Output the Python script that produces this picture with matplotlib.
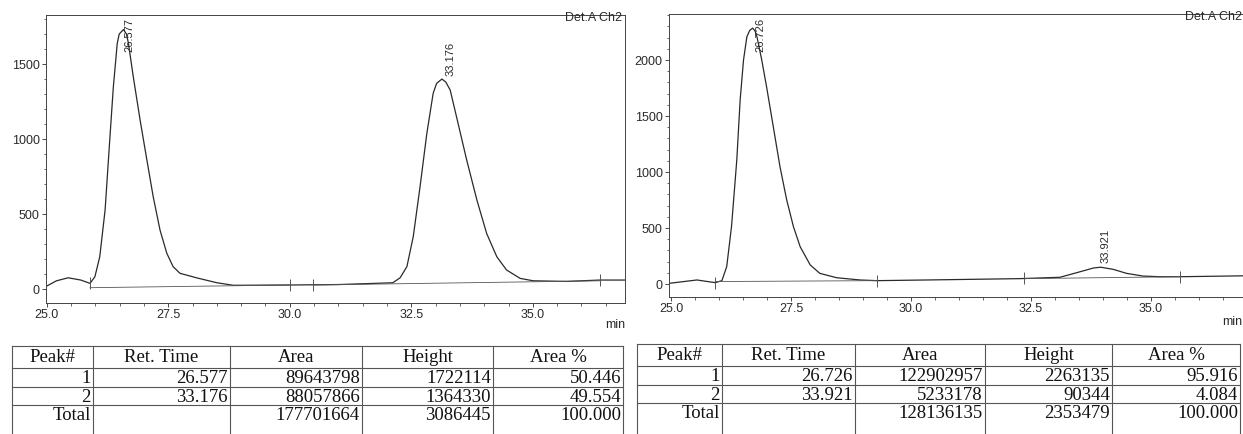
import numpy as np
import matplotlib.pyplot as plt

# chromatogram 1 (racemic) - time (min) vs signal (mV)
left_t = [25.0, 25.2, 25.44, 25.7, 25.89, 25.99, 26.09, 26.20, 26.30, 26.37, 26.45,
          26.49, 26.577, 26.64, 26.68, 26.78, 26.92, 27.06, 27.19, 27.33, 27.47,
          27.60, 27.74, 28.08, 28.50, 28.84, 30.0, 31.0, 32.12, 32.27, 32.41,
          32.54, 32.68, 32.82, 32.95, 33.02, 33.13, 33.21, 33.30, 33.43, 33.64,
          33.85, 34.05, 34.26, 34.46, 34.74, 35.01, 35.70, 36.38, 36.9]
left_v = [20, 55, 75, 60, 38, 82, 215, 527, 1015, 1349, 1638,
          1700, 1730, 1700, 1638, 1415, 1127, 860, 615, 393, 238,
          149, 105, 75, 42, 25, 27, 30, 42, 75, 150,
          349, 682, 1038, 1305, 1371, 1400, 1380, 1327, 1149, 860,
          593, 371, 215, 127, 71, 55, 51, 60, 60]

# chromatogram 2 (enriched sample)
right_t = [24.96, 25.54, 25.92, 26.06, 26.16, 26.26, 26.37, 26.44, 26.51, 26.58,
           26.64, 26.70, 26.75, 26.79, 26.89, 26.99, 27.13, 27.27, 27.41, 27.55,
           27.69, 27.90, 28.10, 28.45, 28.94, 29.29, 30.33, 32.27, 33.10, 33.45,
           33.80, 33.95, 34.21, 34.49, 34.83, 35.19, 35.60, 37.06]
right_v = [6, 36, 12, 30, 155, 512, 1107, 1643, 2000, 2208,
           2265, 2285, 2260, 2208, 2000, 1762, 1405, 1047, 750, 512,
           333, 170, 95, 56, 36, 30, 36, 48, 60, 101,
           143, 150, 131, 95, 71, 65, 65, 74]

# integration baselines and event marks
left_base = [([25.89, 30.0], [9, 27]), ([30.48, 36.38], [27, 55])]
right_base = [([25.92, 29.29], [22, 30]), ([32.36, 35.60], [48, 65])]
left_marks = [25.89, 30.0, 30.48, 36.38]
right_marks = [25.92, 29.29, 32.36, 35.60]

# peak tables
headers = ["Peak#", "Ret. Time", "Area", "Height", "Area %"]
left_rows = [["1", "26.577", "89643798", "1722114", "50.446"],
             ["2", "33.176", "88057866", "1364330", "49.554"],
             ["Total", "", "177701664", "3086445", "100.000"]]
right_rows = [["1", "26.726", "122902957", "2263135", "95.916"],
              ["2", "33.921", "5233178", "90344", "4.084"],
              ["Total", "", "128136135", "2353479", "100.000"]]
left_peaks = [26.577, 33.176]
right_peaks = [26.726, 33.921]
left_yticks = [0, 500, 1000, 1500]
right_yticks = [0, 500, 1000, 1500, 2000]
xticks = [25.0, 27.5, 30.0, 32.5, 35.0]

W, H = 1243, 434
plt.rcParams['font.family'] = ['Liberation Sans', 'DejaVu Sans']
fig = plt.figure(figsize=(W / 100, H / 100), dpi=100)
fig.patch.set_facecolor('white')
ink = '#2a2a2a'


def px_axes(x0, y0, x1, y1):
    return fig.add_axes([x0 / W, 1 - y1 / H, (x1 - x0) / W, (y1 - y0) / H])


def chromatogram(ax, t, v, base, marks, peaks, yticks, xlim, ylim, lab_off):
    ax.plot(t, v, color=ink, lw=0.9, solid_joinstyle='round')
    for bt, bv in base:
        ax.plot(bt, bv, color='#555555', lw=0.6)
    for m in marks:
        ax.plot(m, np.interp(m, t, v), marker='|', ms=9, mew=0.7, color='#555555')
    for p, off in zip(peaks, lab_off):
        ax.annotate(f"{p:.3f}", (p + 0.13, np.interp(p + 0.13, t, v)),
                    xytext=(0, off), textcoords='offset pixels',
                    rotation=90, ha='center', va='bottom', fontsize=8, color=ink)
    ax.set_xlim(*xlim)
    ax.set_ylim(*ylim)
    ax.set_xticks(xticks)
    ax.set_xticklabels([f"{x:.1f}" for x in xticks])
    ax.set_xticks(np.arange(25.0, 37.0, 0.5), minor=True)
    ax.set_yticks(yticks)
    ax.set_yticks(np.arange(0, ylim[1], 100), minor=True)
    ax.tick_params(which='major', length=3, width=0.6, pad=1.5, labelsize=9,
                   colors=ink)
    ax.tick_params(which='minor', length=1.8, width=0.5, colors=ink)
    for s in ax.spines.values():
        s.set_linewidth(0.7)
        s.set_color('#444444')


axL = px_axes(46, 15, 625, 303)
chromatogram(axL, left_t, left_v, left_base, left_marks, left_peaks, left_yticks,
             (24.984, 36.897), (-93, 1827), [0, 15])
axR = px_axes(669, 14, 1250, 297)
chromatogram(axR, right_t, right_v, right_base, right_marks, right_peaks, right_yticks,
             (24.958, 37.06), (-116, 2411), [0, 5])

fig.text(622 / W, 1 - 12 / H, "Det.A Ch2", ha='right', va='top', fontsize=9, color=ink)
fig.text(1242 / W, 1 - 11 / H, "Det.A Ch2", ha='right', va='top', fontsize=9, color=ink)
fig.text(625 / W, 1 - 325 / H, "min", ha='right', va='center', fontsize=9, color=ink)
fig.text(1242 / W, 1 - 322 / H, "min", ha='right', va='center', fontsize=9, color=ink)

# tables drawn on a pixel-space overlay
tab = fig.add_axes([0, 0, 1, 1])
tab.set_xlim(0, W)
tab.set_ylim(H, 0)
tab.axis('off')
row_lines = [346, 368, 387, 405, 424]


def draw_table(cols, rows, dy):
    ys = [y + dy for y in row_lines]
    for y in ys[:-1]:
        tab.plot([cols[0], cols[-1]], [y, y], color='#555555', lw=0.8)
    for x in cols:
        tab.plot([x, x], [ys[0], H], color='#555555', lw=0.8)
    for i, h in enumerate(headers):
        tab.text((cols[i] + cols[i + 1]) / 2, (ys[0] + ys[1]) / 2 + 1, h,
                 ha='center', va='center', fontsize=13.5,
                 family='Liberation Serif', color='#111111')
    for r, row in enumerate(rows):
        yc = (ys[r + 1] + ys[r + 2]) / 2 + 1
        for i, cell in enumerate(row):
            tab.text(cols[i + 1] - 2, yc, cell, ha='right', va='center',
                     fontsize=13.5, family='Liberation Serif', color='#111111')


draw_table([12, 93, 230, 362, 493, 623], left_rows, 0)
draw_table([637, 722, 855, 985, 1112, 1240], right_rows, -2)

fig.savefig("out.png", dpi=100)
